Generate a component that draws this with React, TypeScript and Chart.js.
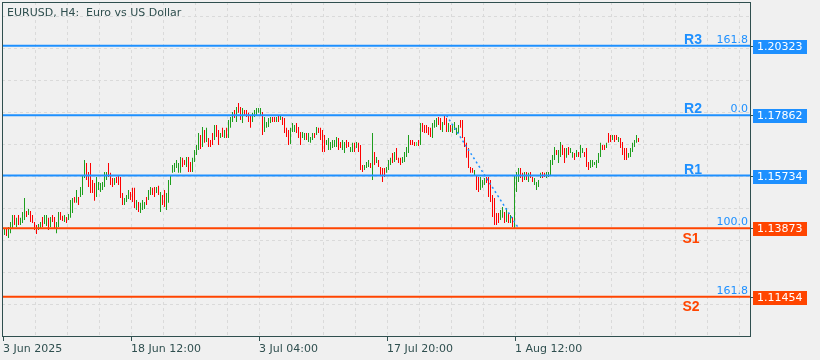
import { useEffect, useRef } from "react";
import { Chart, registerables } from "chart.js";

Chart.register(...registerables);

const chartTitle = "EURUSD, H4:  Euro vs US Dollar";
const dateLabels = ["3 Jun 2025", "18 Jun 12:00", "3 Jul 04:00", "17 Jul 20:00", "1 Aug 12:00"];
const dateLabelBars = [0, 64, 128, 192, 256];
const levelNames = ["R3", "R2", "R1", "S1", "S2"];
const levelPrices = [1.20323, 1.17862, 1.15734, 1.13873, 1.11454];
const levelTexts = ["1.20323", "1.17862", "1.15734", "1.13873", "1.11454"];
const fibTexts = ["161.8", "0.0", "", "100.0", "161.8"];
const fibAnchorBars = [221, 257];
const fibAnchorPrices = [1.17862, 1.13873];
const gridPrices = [1.21373, 1.20242, 1.19111, 1.1798, 1.16849, 1.15718, 1.14587, 1.13456, 1.12325, 1.11194];

// H4 candles: high / low per bar, direction G = bullish, R = bearish, L = neutral
const highs = [
  1.1388, 1.1388, 1.1392, 1.1409, 1.1434, 1.1434, 1.1424, 1.1434, 1.1424, 1.1445,
  1.1494, 1.1448, 1.1455, 1.1448, 1.1434, 1.1409, 1.1399, 1.1402, 1.1409, 1.1427,
  1.1434, 1.1434, 1.1424, 1.1427, 1.1434, 1.1427, 1.1409, 1.1445, 1.1445, 1.1431,
  1.1434, 1.1427, 1.1438, 1.1487, 1.1494, 1.1498, 1.1522, 1.1498, 1.1533, 1.1575,
  1.1628, 1.1618, 1.1586, 1.1618, 1.1558, 1.1547, 1.1568, 1.1551, 1.1547, 1.1551,
  1.1586, 1.1586, 1.1618, 1.1583, 1.1565, 1.1565, 1.1568, 1.1575, 1.1568, 1.1512,
  1.1494, 1.1505, 1.1522, 1.1515, 1.153, 1.153, 1.1487, 1.148, 1.1477, 1.1487,
  1.148, 1.1498, 1.1522, 1.1533, 1.153, 1.1533, 1.1533, 1.1537, 1.1515, 1.1505,
  1.1522, 1.1512, 1.1558, 1.1575, 1.1611, 1.1618, 1.1628, 1.1618, 1.1639, 1.1636,
  1.1628, 1.1639, 1.1639, 1.1621, 1.1636, 1.1664, 1.1681, 1.1724, 1.1717, 1.1745,
  1.1734, 1.1742, 1.1706, 1.1699, 1.1724, 1.1752, 1.1752, 1.1734, 1.1724, 1.1742,
  1.1734, 1.1742, 1.177, 1.178, 1.1798, 1.1805, 1.1816, 1.183, 1.1816, 1.1812,
  1.1805, 1.1805, 1.1795, 1.1787, 1.1795, 1.1805, 1.1812, 1.1812, 1.1812, 1.1798,
  1.178, 1.1763, 1.1777, 1.178, 1.178, 1.178, 1.178, 1.1787, 1.1787, 1.178,
  1.1777, 1.1742, 1.1734, 1.1742, 1.1759, 1.1752, 1.1759, 1.1745, 1.1727, 1.1727,
  1.1724, 1.1724, 1.1724, 1.171, 1.1724, 1.1724, 1.1745, 1.1742, 1.1742, 1.1734,
  1.1717, 1.1699, 1.1706, 1.1692, 1.1699, 1.1699, 1.171, 1.1706, 1.1692, 1.1699,
  1.1692, 1.1699, 1.1692, 1.1674, 1.1689, 1.1689, 1.1692, 1.1689, 1.1681, 1.1611,
  1.1611, 1.1621, 1.1628, 1.1618, 1.1724, 1.1657, 1.1639, 1.1628, 1.1604, 1.16,
  1.16, 1.1604, 1.1628, 1.1636, 1.1653, 1.1657, 1.1671, 1.1636, 1.1636, 1.1639,
  1.1657, 1.1674, 1.1717, 1.1699, 1.1699, 1.1692, 1.1692, 1.1699, 1.1759, 1.1759,
  1.1752, 1.1752, 1.1745, 1.1742, 1.1759, 1.177, 1.1777, 1.178, 1.1777, 1.1763,
  1.1786, 1.1777, 1.1759, 1.1752, 1.1752, 1.1763, 1.1742, 1.1752, 1.177, 1.177,
  1.171, 1.1689, 1.1671, 1.1604, 1.16, 1.1593, 1.1575, 1.1568, 1.1568, 1.1558,
  1.1565, 1.1568, 1.1568, 1.1558, 1.1505, 1.1494, 1.1441, 1.1441, 1.1452, 1.1462,
  1.1445, 1.1459, 1.1441, 1.1434, 1.1427, 1.1575, 1.1586, 1.16, 1.16, 1.1583,
  1.1586, 1.1586, 1.1583, 1.1586, 1.1568, 1.1565, 1.1551, 1.1558, 1.1583, 1.1586,
  1.1583, 1.1586, 1.1586, 1.1628, 1.1646, 1.1674, 1.1664, 1.1664, 1.1692, 1.1681,
  1.1671, 1.1671, 1.1674, 1.1671, 1.1657, 1.1653, 1.1664, 1.1657, 1.1681, 1.1671,
  1.1657, 1.1671, 1.1621, 1.1628, 1.1628, 1.1621, 1.1628, 1.1653, 1.1689, 1.1681,
  1.1681, 1.1689, 1.1724, 1.1717, 1.1717, 1.1717, 1.1717, 1.171, 1.1706, 1.1692,
  1.1671, 1.1671, 1.1653, 1.1671, 1.1689, 1.1699, 1.1717, 1.1706,
];

const lows = [
  1.1363, 1.136, 1.1353, 1.137, 1.1388, 1.1399, 1.1392, 1.1399, 1.1399, 1.1406,
  1.1416, 1.1427, 1.1434, 1.1409, 1.1406, 1.1381, 1.1367, 1.1381, 1.1388, 1.1392,
  1.1402, 1.1395, 1.1381, 1.1392, 1.1409, 1.1388, 1.137, 1.1392, 1.1416, 1.1413,
  1.1409, 1.1406, 1.1416, 1.1424, 1.1441, 1.1477, 1.1477, 1.1469, 1.1498, 1.1505,
  1.1565, 1.1558, 1.1533, 1.1512, 1.1512, 1.1484, 1.1498, 1.1522, 1.1515, 1.1522,
  1.1533, 1.1558, 1.1568, 1.154, 1.1533, 1.154, 1.1547, 1.154, 1.1494, 1.1469,
  1.1469, 1.148, 1.1491, 1.1487, 1.148, 1.1459, 1.1452, 1.1445, 1.1441, 1.1452,
  1.1455, 1.1469, 1.1487, 1.1505, 1.1505, 1.1498, 1.1512, 1.1505, 1.1445, 1.1469,
  1.1462, 1.1452, 1.1477, 1.154, 1.1583, 1.1586, 1.16, 1.1583, 1.1583, 1.1604,
  1.1611, 1.1604, 1.1586, 1.1586, 1.1586, 1.1621, 1.1646, 1.1664, 1.1667, 1.1674,
  1.1689, 1.1692, 1.1674, 1.1674, 1.1681, 1.1699, 1.171, 1.1681, 1.1706, 1.171,
  1.1706, 1.1706, 1.1706, 1.1742, 1.1763, 1.1777, 1.1763, 1.1795, 1.177, 1.1759,
  1.1787, 1.178, 1.1763, 1.1742, 1.1763, 1.178, 1.1787, 1.1795, 1.1787, 1.1717,
  1.1727, 1.1742, 1.1745, 1.1759, 1.1763, 1.1763, 1.1763, 1.1763, 1.177, 1.1752,
  1.1724, 1.171, 1.1681, 1.1685, 1.1727, 1.1727, 1.1724, 1.1706, 1.1681, 1.1706,
  1.1699, 1.1699, 1.1692, 1.1689, 1.1699, 1.1706, 1.1717, 1.1724, 1.1699, 1.1657,
  1.1657, 1.1681, 1.1664, 1.1664, 1.1671, 1.1674, 1.1674, 1.1664, 1.1671, 1.1664,
  1.1653, 1.1671, 1.1674, 1.1657, 1.1657, 1.1657, 1.1671, 1.1657, 1.1593, 1.1586,
  1.1593, 1.16, 1.1604, 1.16, 1.1558, 1.1611, 1.1618, 1.1604, 1.1575, 1.1551,
  1.1568, 1.1583, 1.1593, 1.1611, 1.1618, 1.1621, 1.1628, 1.1618, 1.1611, 1.1618,
  1.1621, 1.1639, 1.1653, 1.1681, 1.1681, 1.1678, 1.1678, 1.1678, 1.1681, 1.1727,
  1.1724, 1.1724, 1.1717, 1.171, 1.1706, 1.1742, 1.1745, 1.1752, 1.1734, 1.1727,
  1.1752, 1.1727, 1.1727, 1.1727, 1.1724, 1.1734, 1.1717, 1.1724, 1.1742, 1.1706,
  1.1674, 1.1636, 1.16, 1.1583, 1.1583, 1.1575, 1.1522, 1.1515, 1.1522, 1.153,
  1.154, 1.1547, 1.1498, 1.148, 1.1427, 1.1399, 1.1399, 1.1406, 1.1416, 1.1424,
  1.1406, 1.1409, 1.1406, 1.1406, 1.1392, 1.1387, 1.1515, 1.1551, 1.1565, 1.1551,
  1.1558, 1.1558, 1.1551, 1.1565, 1.1551, 1.154, 1.1522, 1.1533, 1.1565, 1.1565,
  1.1568, 1.1565, 1.1568, 1.1575, 1.1611, 1.1628, 1.1646, 1.1618, 1.1639, 1.1646,
  1.1618, 1.1636, 1.1646, 1.1653, 1.1636, 1.1628, 1.1639, 1.1639, 1.1636, 1.1653,
  1.1639, 1.1604, 1.1593, 1.16, 1.1604, 1.1611, 1.16, 1.1618, 1.1639, 1.1664,
  1.1664, 1.1671, 1.1689, 1.1692, 1.1699, 1.1692, 1.1699, 1.1692, 1.1671, 1.1646,
  1.1628, 1.1628, 1.1636, 1.1639, 1.1657, 1.1674, 1.1689, 1.1692,
];

const dirs = [
  "GRGGGRGRGG", "GRGRRRRGGR", "GGRGRRGGRR", "GRGGGRGRGG", "GRRRRRGGGG",
  "GGRRRGRRRR", "GGGRRRGRGG", "GRGGRRGRGR", "RGGGGGGGGR", "RGRRGGGGRG",
  "RGRRRGRRGR", "GRGGGRGRRG", "RRRRGGGGGR", "GGGGRRGRGR", "RRRGGGRRRG",
  "GRGGGRGRRR", "RGGGGGGRRG", "GRRGGRGRRR", "GGGRGRGRRR", "RGGGRGRRRG",
  "GGGRRRLRGR", "RRRRGGGRRG", "RRGRGGGGRR", "RRRRRGRRGG", "GRRRRRRRGG",
  "RGRGRGGGRR", "GRGRRGGGGR", "RGGGGGRGGR", "RGRGGRGRGG", "RRRGGGGGGR",
  "RGRRGRRGRR", "RRGGGGGR",
].join("");

const BG = "#F0F0F0";
const FRAME = "#2F4F4F";
const GRID = "#DADADA";
const BLUE = "#1E90FF";
const ORANGE = "#FF4500";
const GREEN = "#1E9E1E";
const RED = "#FF0000";
const LIME = "#4CE64C";
const levelColors = [BLUE, BLUE, BLUE, ORANGE, ORANGE];

const X_MIN = -1.25;
const X_MAX = 372.75;
const Y_MIN = 1.10065;
const Y_MAX = 1.21867;

export default function App() {
  const ref = useRef<HTMLCanvasElement>(null);

  useEffect(() => {
    const canvas = ref.current;
    if (!canvas) return;

    const candleData = highs.map((h, i) => ({ x: i, y: [lows[i], h] }));
    const candleColors = dirs.split("").map((d) => (d === "G" ? GREEN : d === "R" ? RED : LIME));

    const levelSets = levelPrices.map((p, k) => ({
      type: "line" as const,
      data: [
        { x: X_MIN, y: p },
        { x: X_MAX, y: p },
      ],
      borderColor: levelColors[k],
      borderWidth: 2,
      pointRadius: 0,
      fill: false,
      tension: 0,
      order: 0,
    }));

    const fibSet = {
      type: "line" as const,
      data: fibAnchorBars.map((b, k) => ({ x: b, y: fibAnchorPrices[k] })),
      borderColor: BLUE,
      borderWidth: 1.5,
      borderDash: [2, 3],
      pointRadius: 0,
      fill: false,
      tension: 0,
      order: 0,
    };

    const decor = {
      id: "decor",
      beforeDraw(chart: any) {
        const { ctx, chartArea: a } = chart;
        const xs = chart.scales.x;
        const ys = chart.scales.y;
        ctx.save();
        ctx.fillStyle = BG;
        ctx.fillRect(0, 0, chart.width, chart.height);
        ctx.strokeStyle = GRID;
        ctx.lineWidth = 1;
        ctx.setLineDash([3, 3]);
        for (let k = 1; k < 30; k++) {
          const px = Math.round(xs.getPixelForValue(k * 16) - 1.5) + 0.5;
          if (px >= a.right - 2) break;
          ctx.beginPath();
          ctx.moveTo(px, a.top);
          ctx.lineTo(px, a.bottom);
          ctx.stroke();
        }
        for (const p of gridPrices) {
          const py = Math.round(ys.getPixelForValue(p)) + 0.5;
          if (py <= a.top + 1 || py >= a.bottom - 1) continue;
          ctx.beginPath();
          ctx.moveTo(a.left, py);
          ctx.lineTo(a.right, py);
          ctx.stroke();
        }
        ctx.restore();
      },
      afterDatasetsDraw(chart: any) {
        const { ctx, chartArea: a } = chart;
        const xs = chart.scales.x;
        const ys = chart.scales.y;
        ctx.save();
        ctx.setLineDash([]);

        // frame
        ctx.strokeStyle = FRAME;
        ctx.lineWidth = 1;
        ctx.strokeRect(a.left + 0.5, a.top + 0.5, a.right - a.left, a.bottom - a.top);

        // title
        ctx.fillStyle = FRAME;
        ctx.font = '11px "DejaVu Sans", sans-serif';
        ctx.textAlign = "left";
        ctx.textBaseline = "alphabetic";
        ctx.fillText(chartTitle, 7, 16);

        // date ticks and labels
        dateLabels.forEach((lab, k) => {
          const px = Math.round(xs.getPixelForValue(dateLabelBars[k]) - 1.5) + 0.5;
          ctx.strokeStyle = FRAME;
          ctx.beginPath();
          ctx.moveTo(px, a.bottom);
          ctx.lineTo(px, a.bottom + 5);
          ctx.stroke();
          ctx.fillStyle = FRAME;
          ctx.font = '11px "DejaVu Sans", sans-serif';
          ctx.textAlign = "left";
          ctx.fillText(lab, px - 0.5, 352);
        });

        // levels: names, fib texts, price boxes
        levelPrices.forEach((p, k) => {
          const py = ys.getPixelForValue(p);
          const col = levelColors[k];
          const isR = levelNames[k].startsWith("R");
          ctx.font = 'bold 14px "Liberation Sans", Arial, sans-serif';
          ctx.fillStyle = col;
          ctx.textAlign = "center";
          ctx.textBaseline = "alphabetic";
          if (isR) ctx.fillText(levelNames[k], 693, py - 2);
          else ctx.fillText(levelNames[k], 691, py + 14.5);

          if (fibTexts[k]) {
            ctx.font = '11px "DejaVu Sans", sans-serif';
            ctx.fillStyle = BLUE;
            ctx.textAlign = "right";
            ctx.fillText(fibTexts[k], 748, py - 3);
          }

          const ry = Math.round(py);
          ctx.strokeStyle = FRAME;
          ctx.beginPath();
          ctx.moveTo(a.right, ry + 0.5);
          ctx.lineTo(a.right + 3, ry + 0.5);
          ctx.stroke();
          ctx.fillStyle = col;
          ctx.fillRect(a.right + 3, ry - 6, 54, 14);
          ctx.fillStyle = "#FFFFFF";
          ctx.font = '11px "DejaVu Sans", sans-serif';
          ctx.textAlign = "left";
          ctx.textBaseline = "middle";
          ctx.fillText(levelTexts[k], a.right + 7, ry + 1.5);
        });
        ctx.restore();
      },
    };

    const chart = new Chart(canvas, {
      type: "bar",
      data: {
        datasets: [
          ...levelSets,
          fibSet,
          {
            type: "bar" as const,
            data: candleData as any,
            backgroundColor: candleColors,
            borderWidth: 0,
            barThickness: 1,
            inflateAmount: 0,
            order: 1,
          } as any,
        ],
      },
      options: {
        animation: false,
        responsive: false,
        events: [],
        layout: { padding: { left: 2, top: 2, right: 70, bottom: 24 } },
        plugins: {
          legend: { display: false },
          tooltip: { enabled: false },
          title: { display: false },
        },
        scales: {
          x: { type: "linear", display: false, min: X_MIN, max: X_MAX, offset: false },
          y: { type: "linear", display: false, min: Y_MIN, max: Y_MAX },
        },
      },
      plugins: [decor],
    } as any);

    return () => chart.destroy();
  }, []);

  return (
    <div style={{ position: "fixed", left: 0, top: 0, width: 820, height: 360, background: BG }}>
      <canvas ref={ref} width={820} height={360} style={{ display: "block", width: 820, height: 360 }} />
    </div>
  );
}
